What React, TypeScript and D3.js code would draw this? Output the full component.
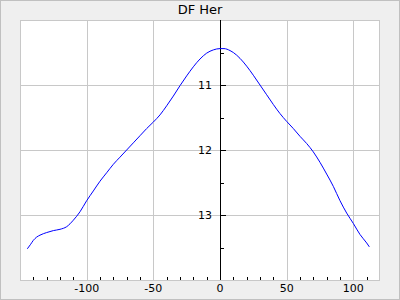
import React from "react";
import * as d3 from "d3";

const TITLE = "DF Her";
const phaseX: number[] = [
  -144.5, -142, -140, -137.5, -135, -130, -125, -120, -115, -110, -105, -100, -95, -90, -85, -80, -75, -70,
  -65, -60, -55, -50, -45, -40, -35, -30, -25, -20, -15, -10, -5, 0, 3, 7.5, 10, 15, 20, 25, 30, 35, 40,
  45, 50, 55, 60, 65, 70, 75, 80, 85, 90, 95, 100, 105, 110, 112,
];
const magY: number[] = [
  13.52, 13.45, 13.39, 13.34, 13.31, 13.27, 13.24, 13.22, 13.18, 13.08, 12.95, 12.78, 12.63, 12.48, 12.35,
  12.22, 12.11, 12.0, 11.89, 11.78, 11.67, 11.57, 11.46, 11.32, 11.17, 11.01, 10.86, 10.72, 10.6, 10.51,
  10.46, 10.44, 10.44, 10.47, 10.5, 10.59, 10.71, 10.85, 11.0, 11.15, 11.3, 11.44, 11.56, 11.67, 11.79,
  11.9, 12.03, 12.19, 12.37, 12.56, 12.78, 12.97, 13.13, 13.3, 13.43, 13.49,
];
const xTicks: number[] = [-100, -50, 0, 50, 100];
const xTickLabels: string[] = ["-100", "-50", "0", "50", "100"];
const yTicks: number[] = [11, 12, 13];
const yTickLabels: string[] = ["11", "12", "13"];
const xDomain: number[] = [-150, 120];
const yDomain: number[] = [10, 14];

export default function App() {
  const W = 400, H = 300;
  const L = 20, R = 380, T = 20, B = 280;
  const x = d3.scaleLinear().domain(xDomain).range([L, R]);
  const y = d3.scaleLinear().domain(yDomain).range([T, B]);
  const pts = phaseX.map((v, i) => [v, magY[i]] as [number, number]);
  const line = d3
    .line<[number, number]>()
    .x((d) => x(d[0]))
    .y((d) => y(d[1]))
    .curve(d3.curveMonotoneX);
  const minorX = d3.range(-140, 120, 10).filter((v) => v % 50 !== 0);
  const minorY = [10.5, 11.5, 12.5, 13.5];
  const font = "DejaVu Sans, sans-serif";
  const grid = "#c8c8c8";
  return (
    <svg
      width={W}
      height={H}
      style={{ position: "absolute", left: 0, top: 0, display: "block" }}
      fontFamily={font}
    >
      <rect x={0.5} y={0.5} width={W - 1} height={H - 1} fill="#efefef" stroke="#c0c0c0" />
      <rect x={L} y={T} width={R - L} height={B - T} fill="#ffffff" />
      {xTicks
        .filter((v) => v !== 0)
        .map((v) => (
          <line key={"gx" + v} x1={Math.round(x(v)) + 0.5} x2={Math.round(x(v)) + 0.5} y1={T} y2={B} stroke={grid} />
        ))}
      {yTicks.map((v) => (
        <line key={"gy" + v} x1={L} x2={R} y1={Math.round(y(v)) + 0.5} y2={Math.round(y(v)) + 0.5} stroke={grid} />
      ))}
      <rect x={L + 0.5} y={T + 0.5} width={R - L - 1} height={B - T} fill="none" stroke={grid} />
      {minorX.map((v) => (
        <line key={"mx" + v} x1={Math.round(x(v)) + 0.5} x2={Math.round(x(v)) + 0.5} y1={B - 3} y2={B} stroke="#000" />
      ))}
      <line x1={x(0) + 0.5} x2={x(0) + 0.5} y1={T} y2={B} stroke="#000" />
      {yTicks.map((v) => (
        <line key={"ty" + v} x1={x(0)} x2={x(0) + 6} y1={Math.round(y(v)) + 0.5} y2={Math.round(y(v)) + 0.5} stroke="#000" />
      ))}
      {minorY.map((v) => (
        <line key={"my" + v} x1={x(0)} x2={x(0) + 4} y1={Math.round(y(v)) + 0.5} y2={Math.round(y(v)) + 0.5} stroke="#000" />
      ))}
      <path d={line(pts) || ""} fill="none" stroke="#0000ff" strokeWidth={1} />
      {yTicks.map((v, i) => (
        <text key={"ly" + v} x={x(0) - 8} y={y(v) + 4} textAnchor="end" fontSize={11} fill="#000">
          {yTickLabels[i]}
        </text>
      ))}
      {xTicks.map((v, i) => (
        <text key={"lx" + v} x={x(v)} y={292} textAnchor="middle" fontSize={11} fill="#000">
          {xTickLabels[i]}
        </text>
      ))}
      <text x={W / 2} y={14} textAnchor="middle" fontSize={13} fill="#000">
        {TITLE}
      </text>
    </svg>
  );
}
